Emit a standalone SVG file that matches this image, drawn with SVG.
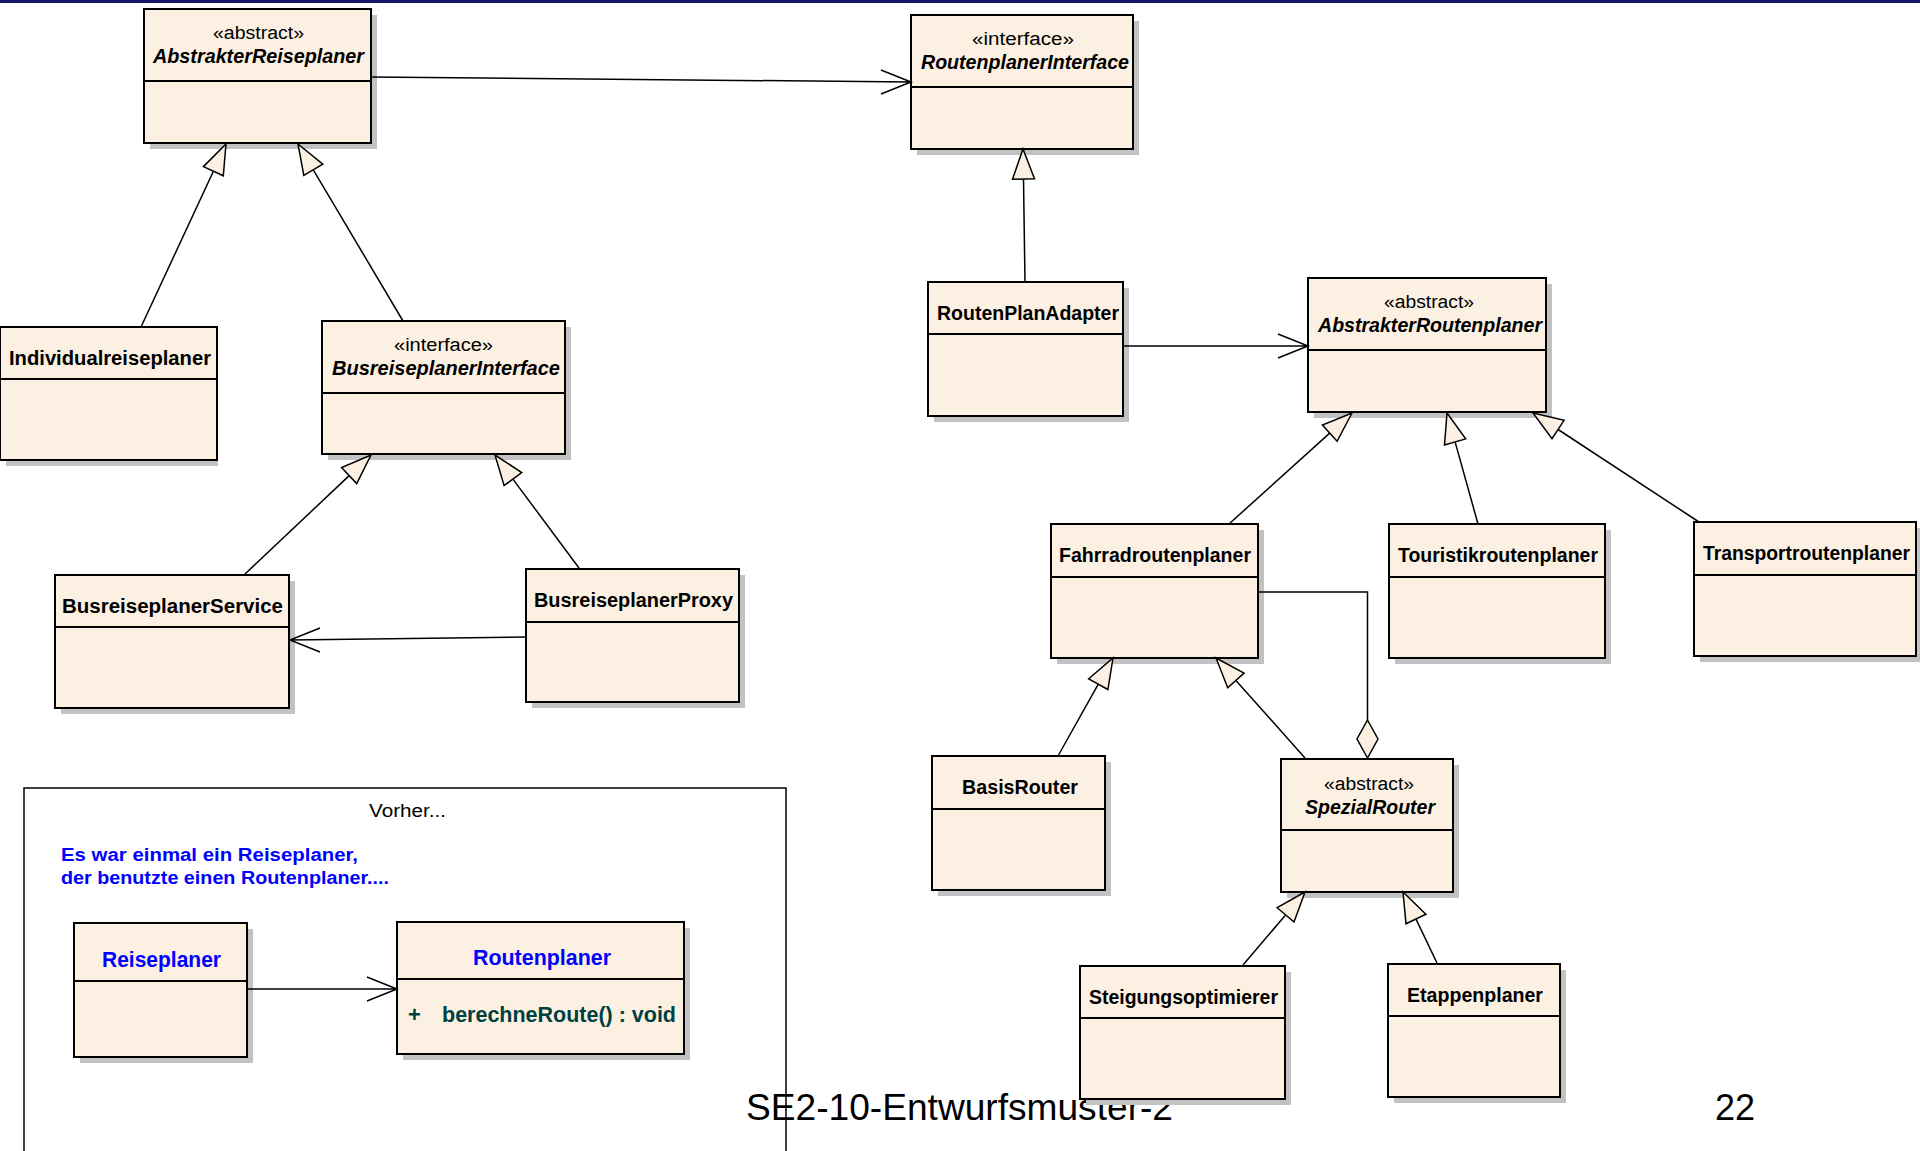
<svg xmlns="http://www.w3.org/2000/svg" width="1920" height="1151" viewBox="0 0 1920 1151">
<style>
.sh{fill:#c2c2c2}
.bx{fill:#fbf0e1;stroke:#000;stroke-width:2}
.dv{stroke:#000;stroke-width:2}
.t{font-family:"Liberation Sans",Arial,sans-serif;font-size:20px;font-weight:bold;fill:#000;text-anchor:middle}
.i{font-style:italic}
.st{font-family:"Liberation Sans",Arial,sans-serif;font-size:18px;fill:#000;text-anchor:middle}
.e{fill:none;stroke:#000;stroke-width:1.5}
.tri{fill:#fbf0e1;stroke:#000;stroke-width:1.5}
.blue{font-family:"Liberation Sans",Arial,sans-serif;font-size:18px;font-weight:bold;fill:#0000ff}
.foot{font-family:"Liberation Sans",Arial,sans-serif;font-size:36px;fill:#000}
</style>
<rect x="0" y="0" width="1920" height="1151" fill="#fff"/>
<rect x="0" y="0" width="1920" height="3" fill="#161664"/>
<text class="foot" x="746" y="1120" textLength="427" lengthAdjust="spacingAndGlyphs">SE2-10-Entwurfsmuster-2</text>
<text class="foot" x="1715" y="1120">22</text>

<g id="frame-vorher">
<rect x="24" y="788" width="762" height="380" fill="none" stroke="#000" stroke-width="1.5"/>
<text class="st" x="407.5" y="817" textLength="77" lengthAdjust="spacingAndGlyphs">Vorher...</text>
<text class="blue" x="61" y="861" textLength="297" lengthAdjust="spacingAndGlyphs">Es war einmal ein Reiseplaner,</text>
<text class="blue" x="61" y="884" textLength="328" lengthAdjust="spacingAndGlyphs">der benutzte einen Routenplaner....</text>
</g>

<g id="AbstrakterReiseplaner">
<rect class="sh" x="150" y="15" width="227" height="134"/>
<rect class="bx" x="144" y="9" width="227" height="134"/>
<line class="dv" x1="144" y1="81" x2="371" y2="81"/>
<text class="st" x="258.5" y="39" textLength="91" lengthAdjust="spacingAndGlyphs">«abstract»</text>
<text class="t i" x="258.5" y="63" textLength="211" lengthAdjust="spacingAndGlyphs">AbstrakterReiseplaner</text>
</g>

<g id="RoutenplanerInterface">
<rect class="sh" x="917" y="21" width="222" height="134"/>
<rect class="bx" x="911" y="15" width="222" height="134"/>
<line class="dv" x1="911" y1="87" x2="1133" y2="87"/>
<text class="st" x="1023" y="45" textLength="102" lengthAdjust="spacingAndGlyphs">«interface»</text>
<text class="t i" x="1025" y="69" textLength="208" lengthAdjust="spacingAndGlyphs">RoutenplanerInterface</text>
</g>

<g id="Individualreiseplaner">
<rect class="sh" x="6" y="333" width="212" height="133"/>
<rect class="bx" x="0" y="327" width="217" height="133"/>
<line class="dv" x1="0" y1="379" x2="217" y2="379"/>
<text class="t" x="110" y="365" textLength="202" lengthAdjust="spacingAndGlyphs">Individualreiseplaner</text>
</g>

<g id="BusreiseplanerInterface">
<rect class="sh" x="328" y="327" width="243" height="133"/>
<rect class="bx" x="322" y="321" width="243" height="133"/>
<line class="dv" x1="322" y1="393" x2="565" y2="393"/>
<text class="st" x="443.5" y="351" textLength="99" lengthAdjust="spacingAndGlyphs">«interface»</text>
<text class="t i" x="446" y="375" textLength="228" lengthAdjust="spacingAndGlyphs">BusreiseplanerInterface</text>
</g>

<g id="BusreiseplanerService">
<rect class="sh" x="61" y="581" width="234" height="133"/>
<rect class="bx" x="55" y="575" width="234" height="133"/>
<line class="dv" x1="55" y1="627" x2="289" y2="627"/>
<text class="t" x="172.5" y="613" textLength="221" lengthAdjust="spacingAndGlyphs">BusreiseplanerService</text>
</g>

<g id="BusreiseplanerProxy">
<rect class="sh" x="532" y="575" width="213" height="133"/>
<rect class="bx" x="526" y="569" width="213" height="133"/>
<line class="dv" x1="526" y1="622" x2="739" y2="622"/>
<text class="t" x="633.5" y="607" textLength="199" lengthAdjust="spacingAndGlyphs">BusreiseplanerProxy</text>
</g>

<g id="RoutenPlanAdapter">
<rect class="sh" x="934" y="288" width="195" height="134"/>
<rect class="bx" x="928" y="282" width="195" height="134"/>
<line class="dv" x1="928" y1="334" x2="1123" y2="334"/>
<text class="t" x="1028" y="320" textLength="182" lengthAdjust="spacingAndGlyphs">RoutenPlanAdapter</text>
</g>

<g id="AbstrakterRoutenplaner">
<rect class="sh" x="1314" y="284" width="238" height="134"/>
<rect class="bx" x="1308" y="278" width="238" height="134"/>
<line class="dv" x1="1308" y1="350" x2="1546" y2="350"/>
<text class="st" x="1429" y="308" textLength="90" lengthAdjust="spacingAndGlyphs">«abstract»</text>
<text class="t i" x="1430" y="332" textLength="224" lengthAdjust="spacingAndGlyphs">AbstrakterRoutenplaner</text>
</g>

<g id="Fahrradroutenplaner">
<rect class="sh" x="1057" y="530" width="207" height="134"/>
<rect class="bx" x="1051" y="524" width="207" height="134"/>
<line class="dv" x1="1051" y1="577" x2="1258" y2="577"/>
<text class="t" x="1155" y="562" textLength="192" lengthAdjust="spacingAndGlyphs">Fahrradroutenplaner</text>
</g>

<g id="Touristikroutenplaner">
<rect class="sh" x="1395" y="530" width="216" height="134"/>
<rect class="bx" x="1389" y="524" width="216" height="134"/>
<line class="dv" x1="1389" y1="577" x2="1605" y2="577"/>
<text class="t" x="1498" y="562" textLength="200" lengthAdjust="spacingAndGlyphs">Touristikroutenplaner</text>
</g>

<g id="Transportroutenplaner">
<rect class="sh" x="1700" y="528" width="222" height="134"/>
<rect class="bx" x="1694" y="522" width="222" height="134"/>
<line class="dv" x1="1694" y1="575" x2="1916" y2="575"/>
<text class="t" x="1806.5" y="560" textLength="207" lengthAdjust="spacingAndGlyphs">Transportroutenplaner</text>
</g>

<g id="BasisRouter">
<rect class="sh" x="938" y="762" width="173" height="134"/>
<rect class="bx" x="932" y="756" width="173" height="134"/>
<line class="dv" x1="932" y1="809" x2="1105" y2="809"/>
<text class="t" x="1020" y="794" textLength="116" lengthAdjust="spacingAndGlyphs">BasisRouter</text>
</g>

<g id="SpezialRouter">
<rect class="sh" x="1287" y="765" width="172" height="133"/>
<rect class="bx" x="1281" y="759" width="172" height="133"/>
<line class="dv" x1="1281" y1="830" x2="1453" y2="830"/>
<text class="st" x="1369" y="790" textLength="90" lengthAdjust="spacingAndGlyphs">«abstract»</text>
<text class="t i" x="1370" y="814" textLength="130" lengthAdjust="spacingAndGlyphs">SpezialRouter</text>
</g>

<g id="Steigungsoptimierer">
<rect class="sh" x="1086" y="972" width="205" height="133"/>
<rect class="bx" x="1080" y="966" width="205" height="133"/>
<line class="dv" x1="1080" y1="1018" x2="1285" y2="1018"/>
<text class="t" x="1183.5" y="1004" textLength="189" lengthAdjust="spacingAndGlyphs">Steigungsoptimierer</text>
</g>

<g id="Etappenplaner">
<rect class="sh" x="1394" y="970" width="172" height="133"/>
<rect class="bx" x="1388" y="964" width="172" height="133"/>
<line class="dv" x1="1388" y1="1016" x2="1560" y2="1016"/>
<text class="t" x="1475" y="1002" textLength="136" lengthAdjust="spacingAndGlyphs">Etappenplaner</text>
</g>

<g id="Reiseplaner">
<rect class="sh" x="80" y="929" width="173" height="134"/>
<rect class="bx" x="74" y="923" width="173" height="134"/>
<line class="dv" x1="74" y1="981" x2="247" y2="981"/>
<text class="t" x="161.5" y="967" style="font-size:22px;fill:#0000ff" textLength="119" lengthAdjust="spacingAndGlyphs">Reiseplaner</text>
</g>

<g id="Routenplaner">
<rect class="sh" x="403" y="928" width="287" height="132"/>
<rect class="bx" x="397" y="922" width="287" height="132"/>
<line class="dv" x1="397" y1="979" x2="684" y2="979"/>
<text class="t" x="542" y="965" style="font-size:22px;fill:#0000ff" textLength="138" lengthAdjust="spacingAndGlyphs">Routenplaner</text>
<text class="t" x="408" y="1022" style="font-size:22px;fill:#004040;text-anchor:start">+</text>
<text class="t" x="442" y="1022" style="font-size:22px;fill:#004040;text-anchor:start" textLength="234" lengthAdjust="spacingAndGlyphs">berechneRoute() : void</text>
</g>

<g id="connectors">
<path class="e" d="M371,77 L911,82 M881,70 L911,82 L881,94"/>
<path class="e" d="M526,637 L290,640 M320,628 L290,640 L320,652"/>
<path class="e" d="M1123,346 L1308,346 M1278,334 L1308,346 L1278,358"/>
<path class="e" d="M247,989 L397,989 M367,977 L397,989 L367,1001"/>
<path class="e" d="M141,327 L213.4,171.2"/>
<polygon class="tri" points="226,144 223.3,175.8 203.4,166.6"/>
<path class="e" d="M403,321 L313.3,169.8"/>
<polygon class="tri" points="298,144 322.8,164.2 303.8,175.4"/>
<path class="e" d="M245,574 L349.2,475.6"/>
<polygon class="tri" points="371,455 356.7,483.6 341.6,467.6"/>
<path class="e" d="M579,568 L512.9,479.1"/>
<polygon class="tri" points="495,455 521.7,472.5 504.1,485.6"/>
<path class="e" d="M1025,282 L1023.5,179"/>
<polygon class="tri" points="1023,149 1034.5,178.8 1012.5,179.2"/>
<path class="e" d="M1229,524 L1329.7,433.1"/>
<polygon class="tri" points="1352,413 1337.1,441.3 1322.4,425"/>
<path class="e" d="M1478,524 L1455.1,441.9"/>
<polygon class="tri" points="1447,413 1465.7,438.9 1444.5,444.9"/>
<path class="e" d="M1699,522 L1558.1,429.5"/>
<polygon class="tri" points="1533,413 1564.1,420.3 1552,438.7"/>
<path class="e" d="M1058,756 L1098.3,684.2"/>
<polygon class="tri" points="1113,658 1107.9,689.5 1088.7,678.8"/>
<path class="e" d="M1305,758 L1235.9,680.4"/>
<polygon class="tri" points="1216,658 1244.1,673.1 1227.7,687.7"/>
<path class="e" d="M1243,965 L1285.6,914.9"/>
<polygon class="tri" points="1305,892 1294,922 1277.2,907.7"/>
<path class="e" d="M1437,963 L1416,919.1"/>
<polygon class="tri" points="1403,892 1425.9,914.3 1406,923.8"/>
<path class="e" d="M1258,592 L1367.5,592 L1367.5,720"/>
<polygon class="tri" points="1367.5,720 1378,739 1367.5,758 1357,739"/>
</g>
</svg>
